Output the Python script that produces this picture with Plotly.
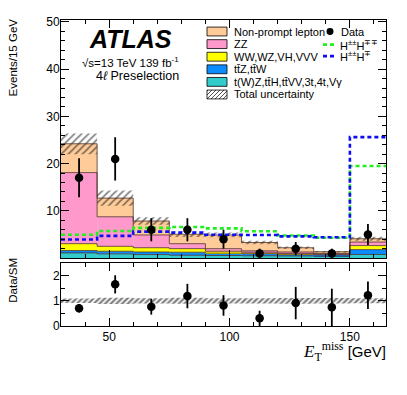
import numpy as np
import plotly.graph_objects as go

# ---------------- data ----------------
bin_edges = [30, 45, 60, 75, 90, 105, 120, 135, 150, 165]
bin_centers = [37.5, 52.5, 67.5, 82.5, 97.5, 112.5, 127.5, 142.5, 157.5]

bkg_tWZ = [1.10, 0.90, 0.75, 0.60, 0.55, 0.50, 0.45, 0.40, 0.77]   # t(W)Z,ttH,ttVV,3t,4t,Vγ
bkg_ttV = [0.50, 0.55, 0.55, 0.65, 0.50, 0.45, 0.35, 0.30, 1.03]   # ttZ,ttW
bkg_VV = [1.45, 1.05, 0.90, 0.75, 0.40, 0.30, 0.20, 0.15, 0.85]    # WW,WZ,VH,VVV
bkg_ZZ = [15.05, 6.25, 2.70, 1.05, 0.55, 0.30, 0.30, 0.15, 0.75]   # ZZ
bkg_NP = [6.10, 3.95, 2.95, 2.00, 2.90, 1.75, 0.90, 0.35, 0.70]    # Non-prompt lepton
total_unc = [2.2, 1.6, 0.8, 0.6, 0.5, 0.35, 0.25, 0.15, 0.4]

data_counts = [17, 21, 6, 6, 4, 1, 2, 1, 5]

sig_HppHmm = [4.95, 5.75, 6.4, 6.6, 6.3, 5.7, 4.8, 4.3, 19.5]
sig_HppHm = [3.95, 4.7, 5.6, 5.4, 4.95, 4.9, 4.6, 4.4, 25.6]

x_ticks = [50, 100, 150]
main_y_ticks = [10, 20, 30, 40, 50]
ratio_ticks = [0, 1, 2]

# ---------------- styles ----------------
FONT = "Liberation Sans, Arial, Helvetica, sans-serif"
C_NP = "#ffcc99"
C_ZZ = "#ff99cc"
C_VV = "#ffff00"
C_TTV = "#0a8cff"
C_TWZ = "#33cccc"
C_GREEN = "#22ee22"
C_BLUE = "#0d0df5"
OUTLINE = "rgba(70,40,30,0.95)"
HATCH = dict(shape="/", fgcolor="#111111", bgcolor="rgba(0,0,0,0)", size=5, solidity=0.35, fillmode="overlay")
HATCH_R = dict(shape="/", fgcolor="#000000", bgcolor="rgba(0,0,0,0)", size=4, solidity=0.55, fillmode="overlay")

PAGE_W, PAGE_H = 407, 395
OFF = 8                     # default body margin of the html page
W, H = PAGE_W - OFF, PAGE_H - OFF
L, R, T, B = 61, 386, 15, 326   # page-pixel frame of the plotting region
main_bottom, ratio_top = 257, 262


def PX(x):
    return (x - L) / (R - L)


def PY(y):
    return (B - y) / (B - T)


fig = go.Figure()

layers = [
    ("t(W)Z,tt̄H,tt̄VV,3t,4t,Vγ", bkg_tWZ, C_TWZ),
    ("tt̄Z,tt̄W", bkg_ttV, C_TTV),
    ("WW,WZ,VH,VVV", bkg_VV, C_VV),
    ("ZZ", bkg_ZZ, C_ZZ),
    ("Non-prompt lepton", bkg_NP, C_NP),
]

base = np.zeros(len(bin_centers))
tops = []
for name, vals, col in layers:
    v = np.array(vals)
    fig.add_trace(go.Bar(x=bin_centers, y=v, base=base, width=15, name=name,
                         marker=dict(color=col, line=dict(width=0)),
                         showlegend=False, xaxis="x", yaxis="y"))
    base = base + v
    tops.append(base.copy())

total = base.copy()

for tp in tops:
    fig.add_trace(go.Scatter(x=bin_edges, y=list(tp) + [tp[-1]], mode="lines",
                             line=dict(color=OUTLINE, width=0.8, shape="hv"),
                             showlegend=False, hoverinfo="skip", xaxis="x", yaxis="y"))

unc = np.array(total_unc)
fig.add_trace(go.Bar(x=bin_centers, y=2 * unc, base=total - unc, width=15,
                     name="Total uncertainty",
                     marker=dict(color="rgba(0,0,0,0)", line=dict(width=0), pattern=HATCH),
                     showlegend=False, xaxis="x", yaxis="y"))

for vals, col in [(sig_HppHmm, C_GREEN), (sig_HppHm, C_BLUE)]:
    fig.add_trace(go.Scatter(x=bin_edges, y=list(vals) + [vals[-1]], mode="lines",
                             line=dict(color=col, width=2.6, shape="hv", dash="4px,3px"),
                             showlegend=False, hoverinfo="skip", xaxis="x", yaxis="y"))

d = np.array(data_counts, dtype=float)
fig.add_trace(go.Scatter(x=bin_centers, y=d, mode="markers",
                         marker=dict(color="black", size=8.5),
                         error_y=dict(type="data", array=np.sqrt(d), color="black", thickness=1.8, width=0),
                         showlegend=False, xaxis="x", yaxis="y"))

# ---------------- ratio ----------------
rel = unc / total
fig.add_trace(go.Bar(x=bin_centers, y=2 * rel, base=1 - rel, width=15,
                     marker=dict(color="rgba(0,0,0,0)", line=dict(width=0), pattern=HATCH_R),
                     showlegend=False, xaxis="x2", yaxis="y2"))
ratio = d / total
fig.add_trace(go.Scatter(x=bin_centers, y=ratio, mode="markers",
                         marker=dict(color="black", size=8.5),
                         error_y=dict(type="data", array=np.sqrt(d) / total, color="black", thickness=1.8, width=0),
                         showlegend=False, xaxis="x2", yaxis="y2"))

axis_common = dict(showline=True, linecolor="black", linewidth=1, mirror="allticks",
                   ticks="inside", tickcolor="black", showgrid=False, zeroline=False,
                   tickfont=dict(family=FONT, size=12, color="black"))

main_dom = [(B - main_bottom) / (B - T), 1]
ratio_dom = [0, (B - ratio_top) / (B - T)]

fig.update_layout(
    width=W, height=H,
    margin=dict(l=L - OFF, r=PAGE_W - R, t=T - OFF, b=PAGE_H - B, pad=0),
    paper_bgcolor="white", plot_bgcolor="white",
    barmode="overlay", showlegend=False,
    font=dict(family=FONT, color="black"),
    xaxis=dict(domain=[0, 1], anchor="y", range=[30, 165], showticklabels=False,
               tickvals=x_ticks, ticklen=8,
               minor=dict(dtick=10, tick0=0, ticks="inside", ticklen=4, tickcolor="black"),
               **axis_common),
    yaxis=dict(domain=main_dom, anchor="x", range=[0, 50.4],
               tickvals=main_y_ticks, ticklen=8, ticklabelstandoff=-2,
               minor=dict(dtick=2, tick0=0, ticks="inside", ticklen=4, tickcolor="black"),
               **axis_common),
    xaxis2=dict(domain=[0, 1], anchor="y2", range=[30, 165], matches="x",
                tickvals=x_ticks, ticklen=8,
                minor=dict(dtick=10, tick0=0, ticks="inside", ticklen=4, tickcolor="black"),
                **axis_common),
    yaxis2=dict(domain=ratio_dom, anchor="x2", range=[0, 2.5],
                tickvals=ratio_ticks, ticklen=8, ticklabelstandoff=-2,
                minor=dict(dtick=0.5, tick0=0, ticks="inside", ticklen=4, tickcolor="black"),
                **axis_common),
)

ann = []
shapes = []


def text(x, y, s, size=11, xanchor="left", **kw):
    ann.append(dict(x=PX(x), y=PY(y), xref="paper", yref="paper", text=s, showarrow=False,
                    xanchor=xanchor, yanchor="middle", font=dict(family=FONT, size=size, color="black"), **kw))


text(130, 34, "<b><i>ATLAS</i></b>", size=25, xanchor="center")
text(130, 58, "√s=13 TeV 139 fb<sup>-1</sup>", size=11.5, xanchor="center")
text(137, 72, "4<i>ℓ</i> Preselection", size=12.5, xanchor="center")

text(13, 53, "Events/15 GeV", size=11.5, xanchor="center", textangle=-90)
text(13, 279, "Data/SM", size=11.5, xanchor="center", textangle=-90)
ann.append(dict(x=PX(388), y=PY(352), xref="paper", yref="paper", showarrow=False,
                xanchor="right", yanchor="middle",
                text="<span style='font-family:Liberation Serif,Times New Roman,serif;font-size:17px'><i>E</i><sub>T</sub><sup>miss</sup></span> [GeV]",
                font=dict(family=FONT, size=15, color="black")))

rows = [26.7, 39.5, 52.3, 65.1, 77.9, 90.7]
legend_items = [("Non-prompt lepton", C_NP), ("ZZ", C_ZZ), ("WW,WZ,VH,VVV", C_VV),
                ("tt̄Z,tt̄W", C_TTV), ("t(W)Z,tt̄H,tt̄VV,3t,4t,Vγ", C_TWZ),
                ("Total uncertainty", None)]
for yrow, (lab, col) in zip(rows, legend_items):
    x0, x1, y0, y1 = 207, 227, yrow - 4.5, yrow + 4.5
    if col is not None:
        shapes.append(dict(type="rect", xref="paper", yref="paper", x0=PX(x0), x1=PX(x1),
                           y0=PY(y1), y1=PY(y0), fillcolor=col, line=dict(color="black", width=0.8)))
    else:
        path = ""
        for k in range(-2, 6):
            xa = x0 + k * 4
            xs, ys, xe, ye = xa, y1, xa + 9, y0
            if xs < x0:
                ys = y1 - (x0 - xs)
                xs = x0
            if xe > x1:
                ye = y0 + (xe - x1)
                xe = x1
            if xs < xe:
                path += f"M{PX(xs)},{PY(ys)} L{PX(xe)},{PY(ye)} "
        shapes.append(dict(type="path", xref="paper", yref="paper", path=path,
                           line=dict(color="#222222", width=0.8)))
        shapes.append(dict(type="rect", xref="paper", yref="paper", x0=PX(x0), x1=PX(x1),
                           y0=PY(y1), y1=PY(y0), fillcolor="rgba(0,0,0,0)",
                           line=dict(color="black", width=0.8)))
    text(232, yrow, lab, size=11)

shapes.append(dict(type="circle", xref="paper", yref="paper", x0=PX(326.5), x1=PX(333.5),
                   y0=PY(30.2), y1=PY(23.2), fillcolor="black", line=dict(color="black", width=0)))
text(339, 26.7, "Data", size=11)
for yrow, col, lab in [(40, C_GREEN, "H<sup>±±</sup>H<sup>∓∓</sup>"), (51.7, C_BLUE, "H<sup>±±</sup>H<sup>∓</sup>")]:
    shapes.append(dict(type="line", xref="paper", yref="paper", x0=PX(323), x1=PX(336),
                       y0=PY(yrow), y1=PY(yrow), line=dict(color=col, width=2.6, dash="4px,3px")))
    text(338, yrow, lab, size=11)

fig.update_layout(annotations=ann, shapes=shapes)
fig.write_html("out.html")
